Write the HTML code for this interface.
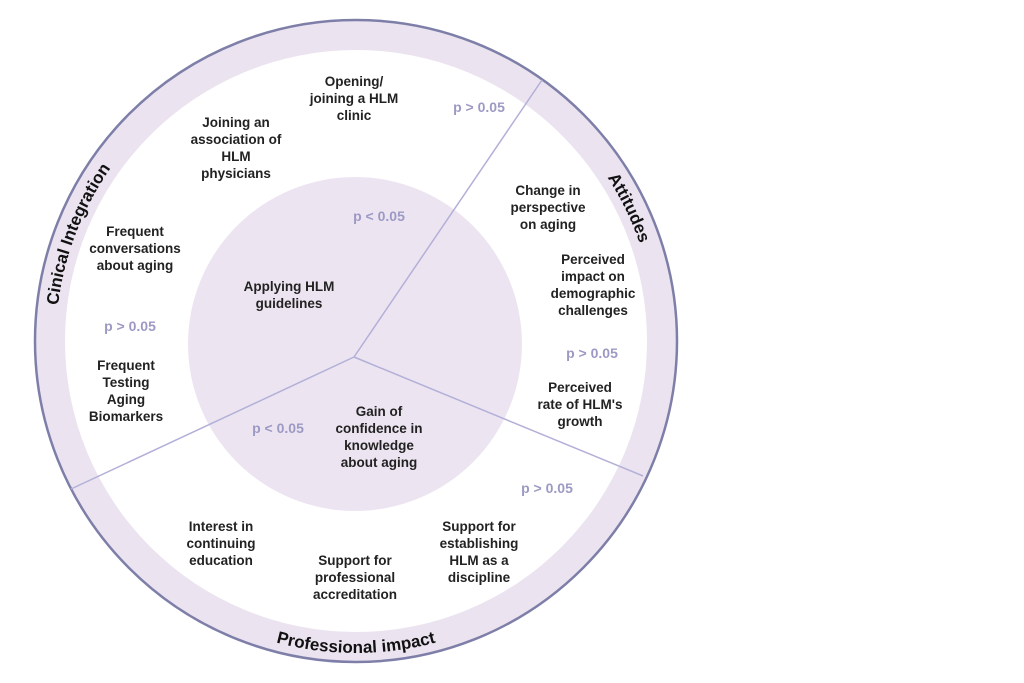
<!DOCTYPE html>
<html><head><meta charset="utf-8"><style>
html,body{margin:0;padding:0;background:#fff;width:1024px;height:683px;overflow:hidden}
svg{display:block}
.t{font-family:"Liberation Sans",sans-serif;font-weight:bold;font-size:13.5px;fill:#222;text-anchor:middle}
.p{font-family:"Liberation Sans",sans-serif;font-weight:bold;font-size:14px;fill:#9c9ac4;text-anchor:middle}
.c{font-family:"Liberation Sans",sans-serif;font-weight:bold;font-size:17px;fill:#111}
</style></head><body>
<svg width="1024" height="683" viewBox="0 0 1024 683" xmlns="http://www.w3.org/2000/svg">
<defs>
<path id="a1" d="M72.3,438.7 A300,300 0 0 1 210.6,78.6"/>
<path id="a2" d="M478,67 A300,300 0 0 1 647.1,413.6"/>
<path id="a3" d="M155.5,580 A312,312 0 0 0 556.5,580"/>
</defs>
<circle cx="356" cy="341" r="321" fill="#ebe3f0" stroke="#7e7fa8" stroke-width="2.5"/>
<circle cx="356" cy="341" r="291" fill="#fff"/>
<circle cx="355" cy="344" r="167" fill="#ede4f1"/>
<g stroke="#b3b0d8" stroke-width="1.5">
<line x1="354" y1="357" x2="542" y2="80"/>
<line x1="354" y1="357" x2="643" y2="476"/>
<line x1="354" y1="357" x2="71" y2="489"/>
</g>
<text class="c"><textPath href="#a1" startOffset="50%" text-anchor="middle">Cinical Integration</textPath></text>
<text class="c"><textPath href="#a2" startOffset="50%" text-anchor="middle">Attitudes</textPath></text>
<text class="c"><textPath href="#a3" startOffset="50%" text-anchor="middle">Professional impact</textPath></text>
<text class="t"><tspan x="354" y="86">Opening/</tspan><tspan x="354" y="103">joining a HLM</tspan><tspan x="354" y="120">clinic</tspan></text>
<text class="t"><tspan x="236" y="127">Joining an</tspan><tspan x="236" y="144">association of</tspan><tspan x="236" y="161">HLM</tspan><tspan x="236" y="178">physicians</tspan></text>
<text class="t"><tspan x="135" y="236">Frequent</tspan><tspan x="135" y="253">conversations</tspan><tspan x="135" y="270">about aging</tspan></text>
<text class="t"><tspan x="126" y="370">Frequent</tspan><tspan x="126" y="387">Testing</tspan><tspan x="126" y="404">Aging</tspan><tspan x="126" y="421">Biomarkers</tspan></text>
<text class="t"><tspan x="289" y="291">Applying HLM</tspan><tspan x="289" y="308">guidelines</tspan></text>
<text class="t"><tspan x="379" y="416">Gain of</tspan><tspan x="379" y="433">confidence in</tspan><tspan x="379" y="450">knowledge</tspan><tspan x="379" y="467">about aging</tspan></text>
<text class="t"><tspan x="548" y="195">Change in</tspan><tspan x="548" y="212">perspective</tspan><tspan x="548" y="229">on aging</tspan></text>
<text class="t"><tspan x="593" y="264">Perceived</tspan><tspan x="593" y="281">impact on</tspan><tspan x="593" y="298">demographic</tspan><tspan x="593" y="315">challenges</tspan></text>
<text class="t"><tspan x="580" y="392">Perceived</tspan><tspan x="580" y="409">rate of HLM's</tspan><tspan x="580" y="426">growth</tspan></text>
<text class="t"><tspan x="221" y="531">Interest in</tspan><tspan x="221" y="548">continuing</tspan><tspan x="221" y="565">education</tspan></text>
<text class="t"><tspan x="355" y="565">Support for</tspan><tspan x="355" y="582">professional</tspan><tspan x="355" y="599">accreditation</tspan></text>
<text class="t"><tspan x="479" y="531">Support for</tspan><tspan x="479" y="548">establishing</tspan><tspan x="479" y="565">HLM as a</tspan><tspan x="479" y="582">discipline</tspan></text>
<text class="p" x="479" y="112">p &gt; 0.05</text>
<text class="p" x="379" y="221">p &lt; 0.05</text>
<text class="p" x="130" y="331">p &gt; 0.05</text>
<text class="p" x="592" y="358">p &gt; 0.05</text>
<text class="p" x="278" y="433">p &lt; 0.05</text>
<text class="p" x="547" y="493">p &gt; 0.05</text>
</svg>
</body></html>
